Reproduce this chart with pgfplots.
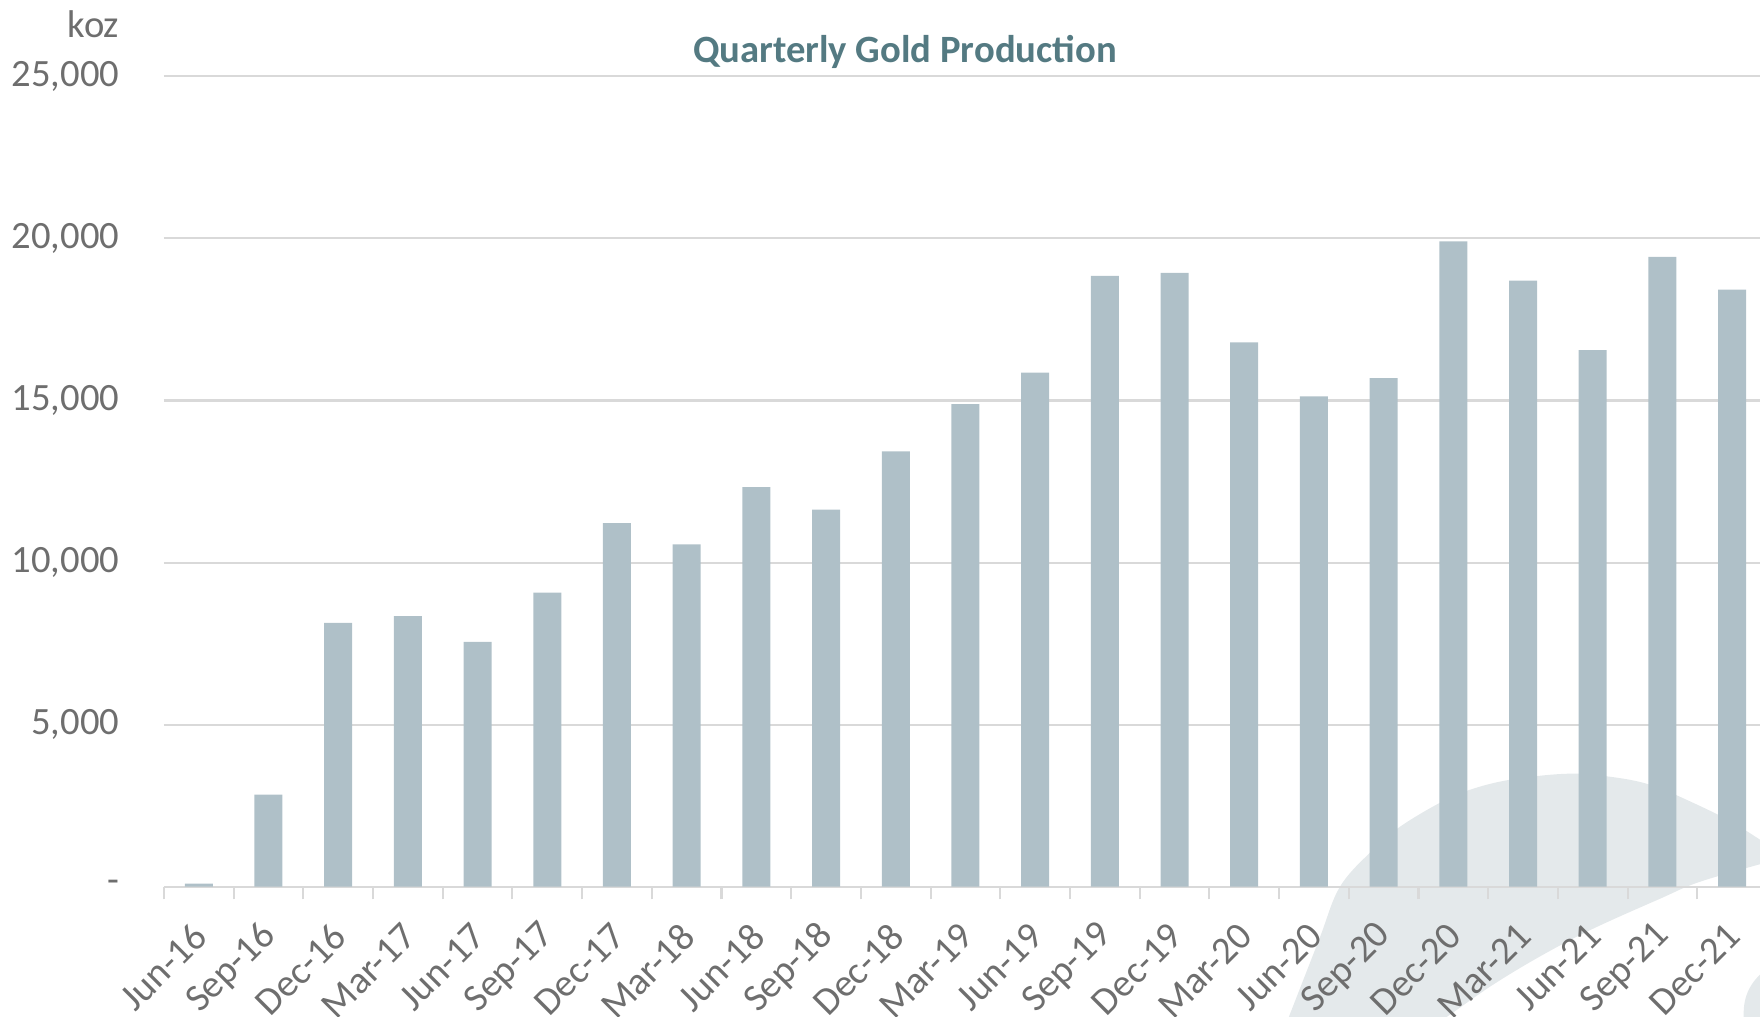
\documentclass[border=0pt]{standalone}
\usepackage{fontspec}
\setmainfont{Carlito}
\usepackage{pgfplots}
\pgfplotsset{compat=1.18}
\definecolor{barc}{RGB}{175,192,200}
\definecolor{gridc}{RGB}{217,217,217}
\definecolor{txt}{RGB}{110,110,110}
\definecolor{titc}{RGB}{84,122,130}
\definecolor{swc}{RGB}{228,233,235}
\begin{document}
\begin{tikzpicture}[font=\fontsize{11}{13}\selectfont]
\path[use as bounding box] (-16.39mm,-12.93mm) rectangle (159.6mm,88.67mm);
\clip (-16.39mm,-12.93mm) rectangle (159.6mm,88.67mm);
\fill[swc] plot[smooth, tension=0.6] coordinates {(112.3mm,-13.5mm) (115.5mm,-5.3mm) (117.6mm,0mm) (120.9mm,3.7mm) (123.6mm,6.0mm) (127.6mm,8.4mm) (130.6mm,9.7mm) (134.6mm,10.7mm) (140.3mm,11.3mm) (144.6mm,11.0mm) (148.6mm,10.2mm) (152.9mm,8.4mm) (156.9mm,6.4mm) (160.5mm,4.1mm)}
 -- plot[smooth, tension=0.6] coordinates {(160.5mm,2.5mm) (153.6mm,0.5mm) (149.6mm,-1.2mm) (142.9mm,-4.2mm) (137.9mm,-6.8mm) (132.9mm,-9.8mm) (128.3mm,-13.0mm) (126.0mm,-14.5mm)} -- cycle;
\fill[swc] (160.5mm,-8.0mm) .. controls (158.4mm,-9.6mm) and (157.8mm,-11.2mm) .. (158.0mm,-13.5mm) -- (161mm,-13.5mm) -- cycle;
\begin{axis}[
  scale only axis, width=159.6mm, height=81.04mm,
  xmin=-0.5, xmax=22.4, ymin=0, ymax=25000,
  axis x line*=bottom, axis y line*=left,
  y axis line style={draw=none},
  x axis line style={draw=gridc, line width=0.6pt},
  ymajorgrids, grid style={draw=gridc, line width=0.6pt},
  scaled y ticks=false,
  ytick={0,5000,10000,15000,20000,25000},
  yticklabels={{-\hspace{1.6mm}},{5,000},{10,000},{15,000},{20,000},{25,000}},
  ytick style={draw=none},
  yticklabel style={text=txt, anchor=east, inner sep=0pt, xshift=-4.4mm},
  xtick={0,...,22},
  xticklabels={Jun-16,Sep-16,Dec-16,Mar-17,Jun-17,Sep-17,Dec-17,Mar-18,Jun-18,Sep-18,Dec-18,Mar-19,Jun-19,Sep-19,Dec-19,Mar-20,Jun-20,Sep-20,Dec-20,Mar-21,Jun-21,Sep-21,Dec-21},
  xtick style={draw=none},
  xticklabel style={text=txt, anchor=east, inner sep=0pt, yshift=-2.8mm, xshift=0.2mm, rotate=45},
  extra x ticks={-0.5,0.5,...,21.5},
  extra x tick labels={},
  extra x tick style={major tick length=1.27mm, tick align=outside, grid=none, xtick style={draw=gridc, line width=0.6pt}},
  ybar, bar width=2.8mm,
  clip=false,
]
\addplot[fill=barc, draw=none] coordinates {
(0,100) (1,2840) (2,8140) (3,8350) (4,7550) (5,9070) (6,11220) (7,10560) (8,12330) (9,11630) (10,13430) (11,14890) (12,15860) (13,18840) (14,18940) (15,16790) (16,15130) (17,15690) (18,19910) (19,18700) (20,16550) (21,19430) (22,18420)};
\end{axis}
\node[text=titc, font=\bfseries\fontsize{11}{13}\selectfont] at (74.1mm,83.5mm) {Quarterly Gold Production};
\node[text=txt, anchor=east, inner sep=0pt] at (-4.4mm,86.2mm) {koz};
\end{tikzpicture}
\end{document}
